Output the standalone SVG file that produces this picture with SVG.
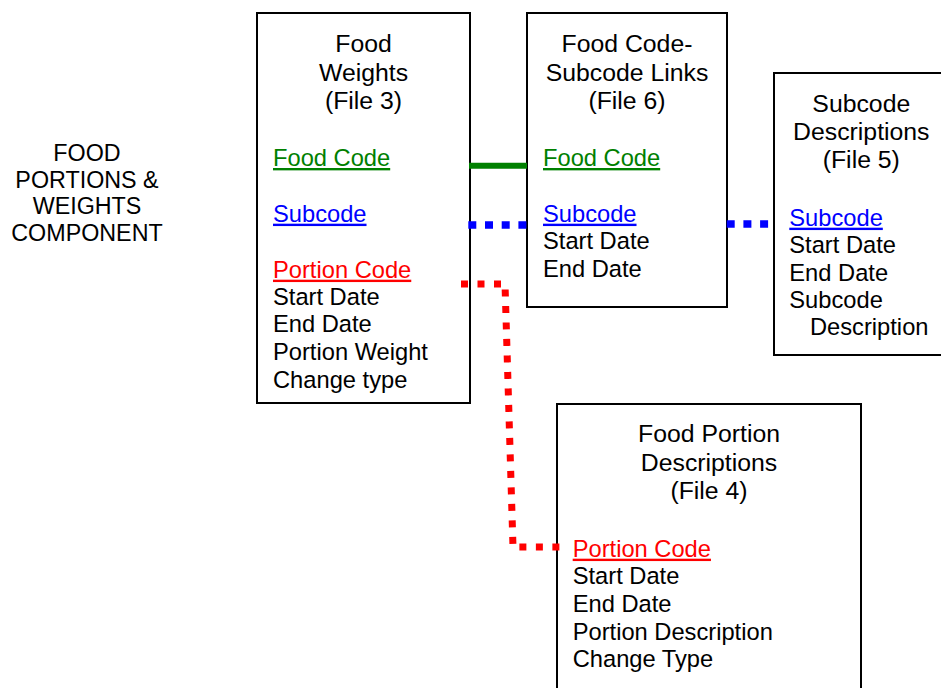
<svg xmlns="http://www.w3.org/2000/svg" width="941" height="688" viewBox="0 0 941 688">
<style>
  .box { fill: #ffffff; stroke: #000000; stroke-width: 2; }
  .t { font-family: "Liberation Sans", Arial, sans-serif; font-size: 24.8px; fill: #000000; text-anchor: middle; }
  .f { font-family: "Liberation Sans", Arial, sans-serif; font-size: 23.7px; fill: #000000; }
  .lbl { font-family: "Liberation Sans", Arial, sans-serif; font-size: 23.3px; fill: #000000; text-anchor: middle; }
  .g { fill: #008000; text-decoration: underline; }
  .b { fill: #0000ff; text-decoration: underline; }
  .r { fill: #ff0000; text-decoration: underline; }
  .cg { stroke: #008000; stroke-width: 6; fill: none; }
  .cb { stroke: #0000ff; stroke-width: 7.5; fill: none; stroke-dasharray: 8 8.7; }
  .cr { stroke: #ff0000; stroke-width: 7; fill: none; stroke-dasharray: 7 9.5; }
</style>
<rect width="941" height="688" fill="#ffffff"/>

<g id="component-label">
  <text class="lbl" x="87" y="160.7">FOOD</text>
  <text class="lbl" x="87" y="187.7">PORTIONS &amp;</text>
  <text class="lbl" x="87" y="214.3">WEIGHTS</text>
  <text class="lbl" x="87" y="241">COMPONENT</text>
</g>

<g id="food-weights">
  <rect class="box" x="257" y="13" width="213" height="390"/>
  <text class="t" x="363.5" y="52.3">Food</text>
  <text class="t" x="363.5" y="81">Weights</text>
  <text class="t" x="363.5" y="109">(File 3)</text>
  <text class="f g" x="273" y="166">Food Code</text>
  <text class="f b" x="273" y="221.7">Subcode</text>
  <text class="f r" x="273" y="277.7">Portion Code</text>
  <text class="f" x="273" y="304.5">Start Date</text>
  <text class="f" x="273" y="332.3">End Date</text>
  <text class="f" x="273" y="360">Portion Weight</text>
  <text class="f" x="273" y="387.7">Change type</text>
</g>

<g id="food-code-subcode-links">
  <rect class="box" x="527" y="13" width="200" height="294"/>
  <text class="t" x="627" y="52.3">Food Code-</text>
  <text class="t" x="627" y="81">Subcode Links</text>
  <text class="t" x="627" y="109">(File 6)</text>
  <text class="f g" x="543" y="166">Food Code</text>
  <text class="f b" x="543" y="221.7">Subcode</text>
  <text class="f" x="543" y="249.3">Start Date</text>
  <text class="f" x="543" y="277.3">End Date</text>
</g>

<g id="subcode-descriptions">
  <rect class="box" x="774" y="73" width="175" height="282"/>
  <text class="t" x="861.3" y="111.7">Subcode</text>
  <text class="t" x="861.3" y="140">Descriptions</text>
  <text class="t" x="861.3" y="168.3">(File 5)</text>
  <text class="f b" x="789.3" y="225.7">Subcode</text>
  <text class="f" x="789.3" y="253.3">Start Date</text>
  <text class="f" x="789.3" y="280.7">End Date</text>
  <text class="f" x="789.3" y="308.3">Subcode</text>
  <text class="f" x="810" y="335">Description</text>
</g>

<g id="food-portion-descriptions">
  <rect class="box" x="557" y="404" width="304" height="300"/>
  <text class="t" x="709" y="441.7">Food Portion</text>
  <text class="t" x="709" y="470.5">Descriptions</text>
  <text class="t" x="709" y="499.3">(File 4)</text>
  <text class="f r" x="572.7" y="556.7">Portion Code</text>
  <text class="f" x="572.7" y="584.3">Start Date</text>
  <text class="f" x="572.7" y="612.3">End Date</text>
  <text class="f" x="572.7" y="640">Portion Description</text>
  <text class="f" x="572.7" y="667.3">Change Type</text>
</g>

<g id="connectors">
  <line class="cg" x1="469" y1="165.7" x2="527" y2="165.7"/>
  <line class="cb" x1="468.3" y1="225" x2="527" y2="225"/>
  <line class="cb" x1="726.7" y1="224" x2="774" y2="224"/>
  <path class="cr" d="M 461 284 L 505 284 L 513 547 L 562 547"/>
</g>
</svg>
